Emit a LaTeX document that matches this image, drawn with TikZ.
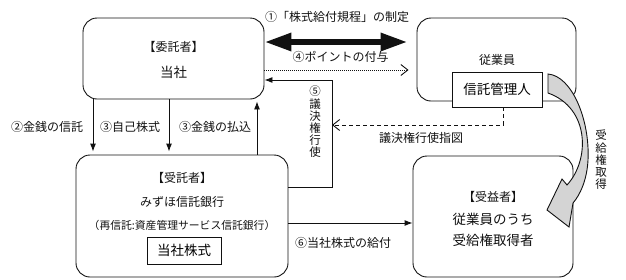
\documentclass[tikz,border=0pt]{standalone}
\usepackage{fontspec}
\setmainfont{Noto Sans CJK JP}
\usetikzlibrary{positioning, calc, arrows.meta}
\definecolor{Dark}{HTML}{111111}
\definecolor{Fold}{HTML}{D4D4D4}
\tikzset{
    partybox/.style={rectangle, rounded corners=14pt, draw=Dark, line width=0.9pt},
    stockbox/.style={rectangle, draw=Dark, line width=0.9pt, fill=white, font=\fontsize{13.5}{16}\selectfont},
    arrow/.style={-{Latex[length=8pt,width=6pt]}, line width=0.9pt, color=Dark},
    openarrow/.style={-{Straight Barb[length=7pt,width=11pt]}, line width=0.9pt, color=Dark},
}

\begin{document}
\begin{tikzpicture}[x=1pt, y=-1pt]

                % Stili comuni
                \tikzset{
                    lbl/.style={font=\fontsize{12}{14}\selectfont, text=Dark, inner sep=0pt},
                    biglbl/.style={font=\fontsize{13.5}{16}\selectfont, text=Dark, inner sep=0pt},
                    vlbl/.style={font=\fontsize{11.5}{12.2}\selectfont, text=Dark, align=center, inner sep=0pt}
                }
                \useasboundingbox (0,0) rectangle (626,279);

                % --- 1. Boxes ---
                \node[partybox, minimum width=181pt, minimum height=81pt] (itaku) at (173.5,58.5) {};
                \node[lbl] (itakuhead) at (173.5,47) {【委託者】};
                \node[biglbl] (itakuname) at (173.5,72) {当社};

                \node[partybox, minimum width=159pt, minimum height=83pt] (jugyo) at (496.5,59.5) {};
                \node[lbl] (jugyohead) at (497,60) {従業員};
                \node[stockbox, minimum width=90pt, minimum height=35pt] (kanri) at (497,89.5) {信託管理人};

                \node[partybox, minimum width=212pt, minimum height=122pt] (jutaku) at (182,216) {};
                \node[lbl] (jutakuhead) at (182,178) {【受託者】};
                \node[lbl] (jutakuname) at (182,202) {みずほ信託銀行};
                \node[lbl, font=\fontsize{10.8}{13}\selectfont] (saishin) at (182,225) {（再信託:資産管理サービス信託銀行）};
                \node[stockbox, minimum width=74pt, minimum height=27pt] (kabu) at (184,250.5) {当社株式};

                \node[partybox, minimum width=160pt, minimum height=121pt] (jueki) at (493,216.5) {};
                \node[lbl] (juekihead) at (493,197) {【受益者】};
                \node[biglbl] (juekiname) at (493,219) {従業員のうち};
                \node[biglbl] (juekiname2) at (493,240) {受給権取得者};

                % --- 2. Frecce in alto ---
                \draw[line width=6pt, color=Dark, {Triangle[length=27pt,width=17pt]}-{Triangle[length=27pt,width=17pt]}, shorten >=9pt]
                    ([yshift=16.5pt]itaku.east) -- ([yshift=16.5pt]itaku.east -| jugyo.west);
                \node[lbl] (kitei) at (337,17) {①「株式給付規程」の制定};

                \draw[openarrow, dash pattern=on 1pt off 1pt, shorten >=8pt]
                    ([yshift=-11.5pt]itaku.east) -- ([yshift=-11.5pt]itaku.east -| jugyo.west);
                \node[lbl] (point) at (340.5,57) {④ポイントの付与};

                % Voto (5) e istruzioni
                \coordinate (bend5) at (332,80);
                \coordinate (sashizu) at (332,125);
                \draw[arrow] ([yshift=29pt]jutaku.east) -| (bend5) -- (bend5 -| itaku.east);
                \node[vlbl] (giketsu) at (315,122) {⑤\\議\\決\\権\\行\\使};
                \draw[openarrow, dash pattern=on 4pt off 3pt] ([xshift=6pt]kanri.south) |- (sashizu);
                \node[lbl] (sashizulbl) at (421,138) {議決権行使指図};

                % --- 3. Frecce verticali ---
                \draw[arrow, shorten >=3pt] ([xshift=-80.5pt]itaku.south) -- ([xshift=-80.5pt]itaku.south |- jutaku.north);
                \draw[arrow, shorten >=3pt] ([xshift=-4.5pt]itaku.south) -- ([xshift=-4.5pt]itaku.south |- jutaku.north);
                \draw[arrow, shorten >=2pt] ([xshift=83.5pt]itaku.south |- jutaku.north) -- ([xshift=83.5pt]itaku.south);
                \node[lbl] (shintaku) at (47,127) {②金銭の信託};
                \node[lbl] (jiko) at (130,127) {③自己株式};
                \node[lbl] (haraikomi) at (215,127) {③金銭の払込};

                % --- 4. Consegna azioni ---
                \draw[arrow] ([yshift=-7pt]jutaku.east) -- ([yshift=-7pt]jutaku.east -| jueki.west);
                \node[lbl] (kyufu) at (343,243) {⑥当社株式の給付};

                % Freccia curva (diritto)
                \filldraw[fill=Fold, draw=Dark, line width=0.9pt, line join=miter]
                    (548,74) .. controls (572,76) and (590,120) .. (588,160)
                    .. controls (587,180) and (580,195) .. (573,203)
                    -- (569,227) -- (547,210) -- (562,179) -- (567,185)
                    .. controls (590,160) and (590,108) .. (548,93) -- cycle;
                \node[vlbl] (shutoku) at (601,160) {受\\給\\権\\取\\得};

\end{tikzpicture}
\end{document}
